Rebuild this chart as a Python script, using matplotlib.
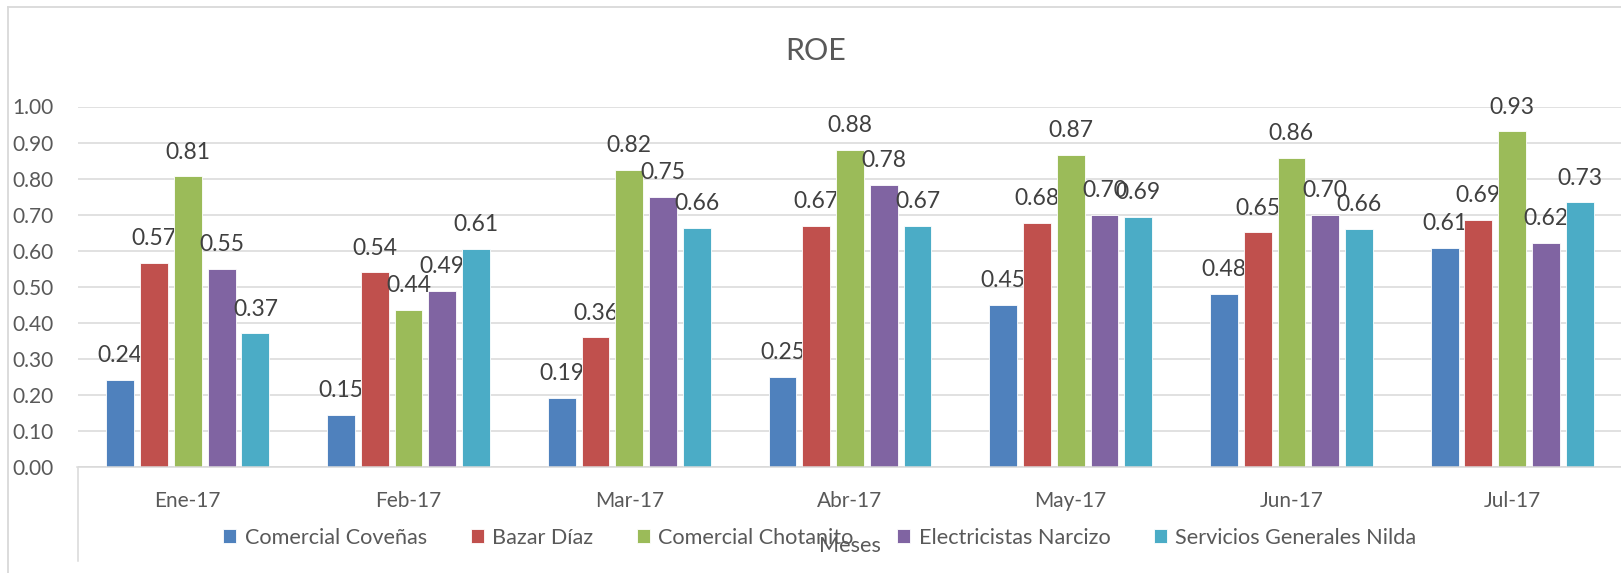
import matplotlib.pyplot as plt
from matplotlib.lines import Line2D
import numpy as np

plt.rcParams['font.family'] = ['Lato', 'DejaVu Sans']

meses = ['Ene-17', 'Feb-17', 'Mar-17', 'Abr-17', 'May-17', 'Jun-17', 'Jul-17']
empresas = ['Comercial Coveñas', 'Bazar Díaz', 'Comercial Chotanito',
            'Electricistas Narcizo', 'Servicios Generales Nilda']

comercial_covenas = [0.243, 0.146, 0.191, 0.251, 0.451, 0.480, 0.609]
bazar_diaz = [0.566, 0.540, 0.360, 0.669, 0.677, 0.651, 0.686]
comercial_chotanito = [0.806, 0.437, 0.823, 0.880, 0.866, 0.857, 0.931]
electricistas_narcizo = [0.549, 0.489, 0.749, 0.783, 0.700, 0.700, 0.623]
servicios_nilda = [0.371, 0.606, 0.663, 0.669, 0.694, 0.660, 0.734]

series = [comercial_covenas, bazar_diaz, comercial_chotanito,
          electricistas_narcizo, servicios_nilda]
colores = ['#4F81BD', '#C0504D', '#9BBB59', '#8064A2', '#4BACC6']

W, H = 1621, 573
fig = plt.figure(figsize=(W / 100, H / 100), dpi=100)
ax = fig.add_axes([77.5 / W, 1 - 467.3 / H, 1545 / W, 360.8 / H])

x = np.arange(len(meses))
paso = 0.153
ancho = 0.126
texto = '#595959'

for i, (vals, nombre, c) in enumerate(zip(series, empresas, colores)):
    pos = x + (i - 2) * paso
    bars = ax.bar(pos, vals, ancho, color=c, edgecolor='white', linewidth=0.6,
                  label=nombre, zorder=3)
    for b, v in zip(bars, vals):
        ax.annotate(f'{v:.2f}', (b.get_x() + b.get_width() / 2, v),
                    xytext=(0, 10), textcoords='offset points',
                    ha='center', va='bottom', fontsize=16.5, color='#404040',
                    annotation_clip=False)

ax.set_xlim(-0.5, 6.5)
ax.set_ylim(0, 1)
ax.set_yticks(np.arange(0, 1.01, 0.1))
ax.set_yticklabels([f'{t:.2f}' for t in np.arange(0, 1.01, 0.1)])
ax.set_xticks(x)
ax.set_xticklabels(meses)
ax.tick_params(axis='y', length=0, pad=17, labelsize=15, labelcolor=texto)
ax.tick_params(axis='x', length=0, pad=17, labelsize=15, labelcolor=texto)
ax.grid(axis='y', color='#d9d9d9', linewidth=1.1, zorder=0)
for s in ['top', 'right', 'left']:
    ax.spines[s].set_visible(False)
ax.spines['bottom'].set_color('#d9d9d9')
ax.spines['bottom'].set_linewidth(1.1)
ax.spines['bottom'].set_zorder(4)

# bordes del grafico
gris = '#d9d9d9'
fig.add_artist(Line2D([8 / W, 8 / W], [0, 1 - 7 / H], color=gris, lw=1.3))
fig.add_artist(Line2D([8 / W, 1], [1 - 7 / H, 1 - 7 / H], color=gris, lw=1.3))
fig.add_artist(Line2D([77.5 / W, 77.5 / W], [1 - 468 / H, 1 - 561 / H], color=gris, lw=1.1))

fig.text(816 / W, 1 - 51.5 / H, 'ROE', ha='center', va='center', fontsize=22, color=texto)

fig.legend(loc='center', bbox_to_anchor=(820 / W, 1 - 538 / H), ncol=5, frameon=False,
           fontsize=15.6, labelcolor=texto, handlelength=0.6, handleheight=0.6,
           handletextpad=0.4, columnspacing=2.0, borderaxespad=0, borderpad=0)

fig.text(850 / W, 1 - 546 / H, 'Meses', ha='center', va='center', fontsize=15.6, color=texto)

plt.savefig('out.png', dpi=100)
plt.close(fig)
